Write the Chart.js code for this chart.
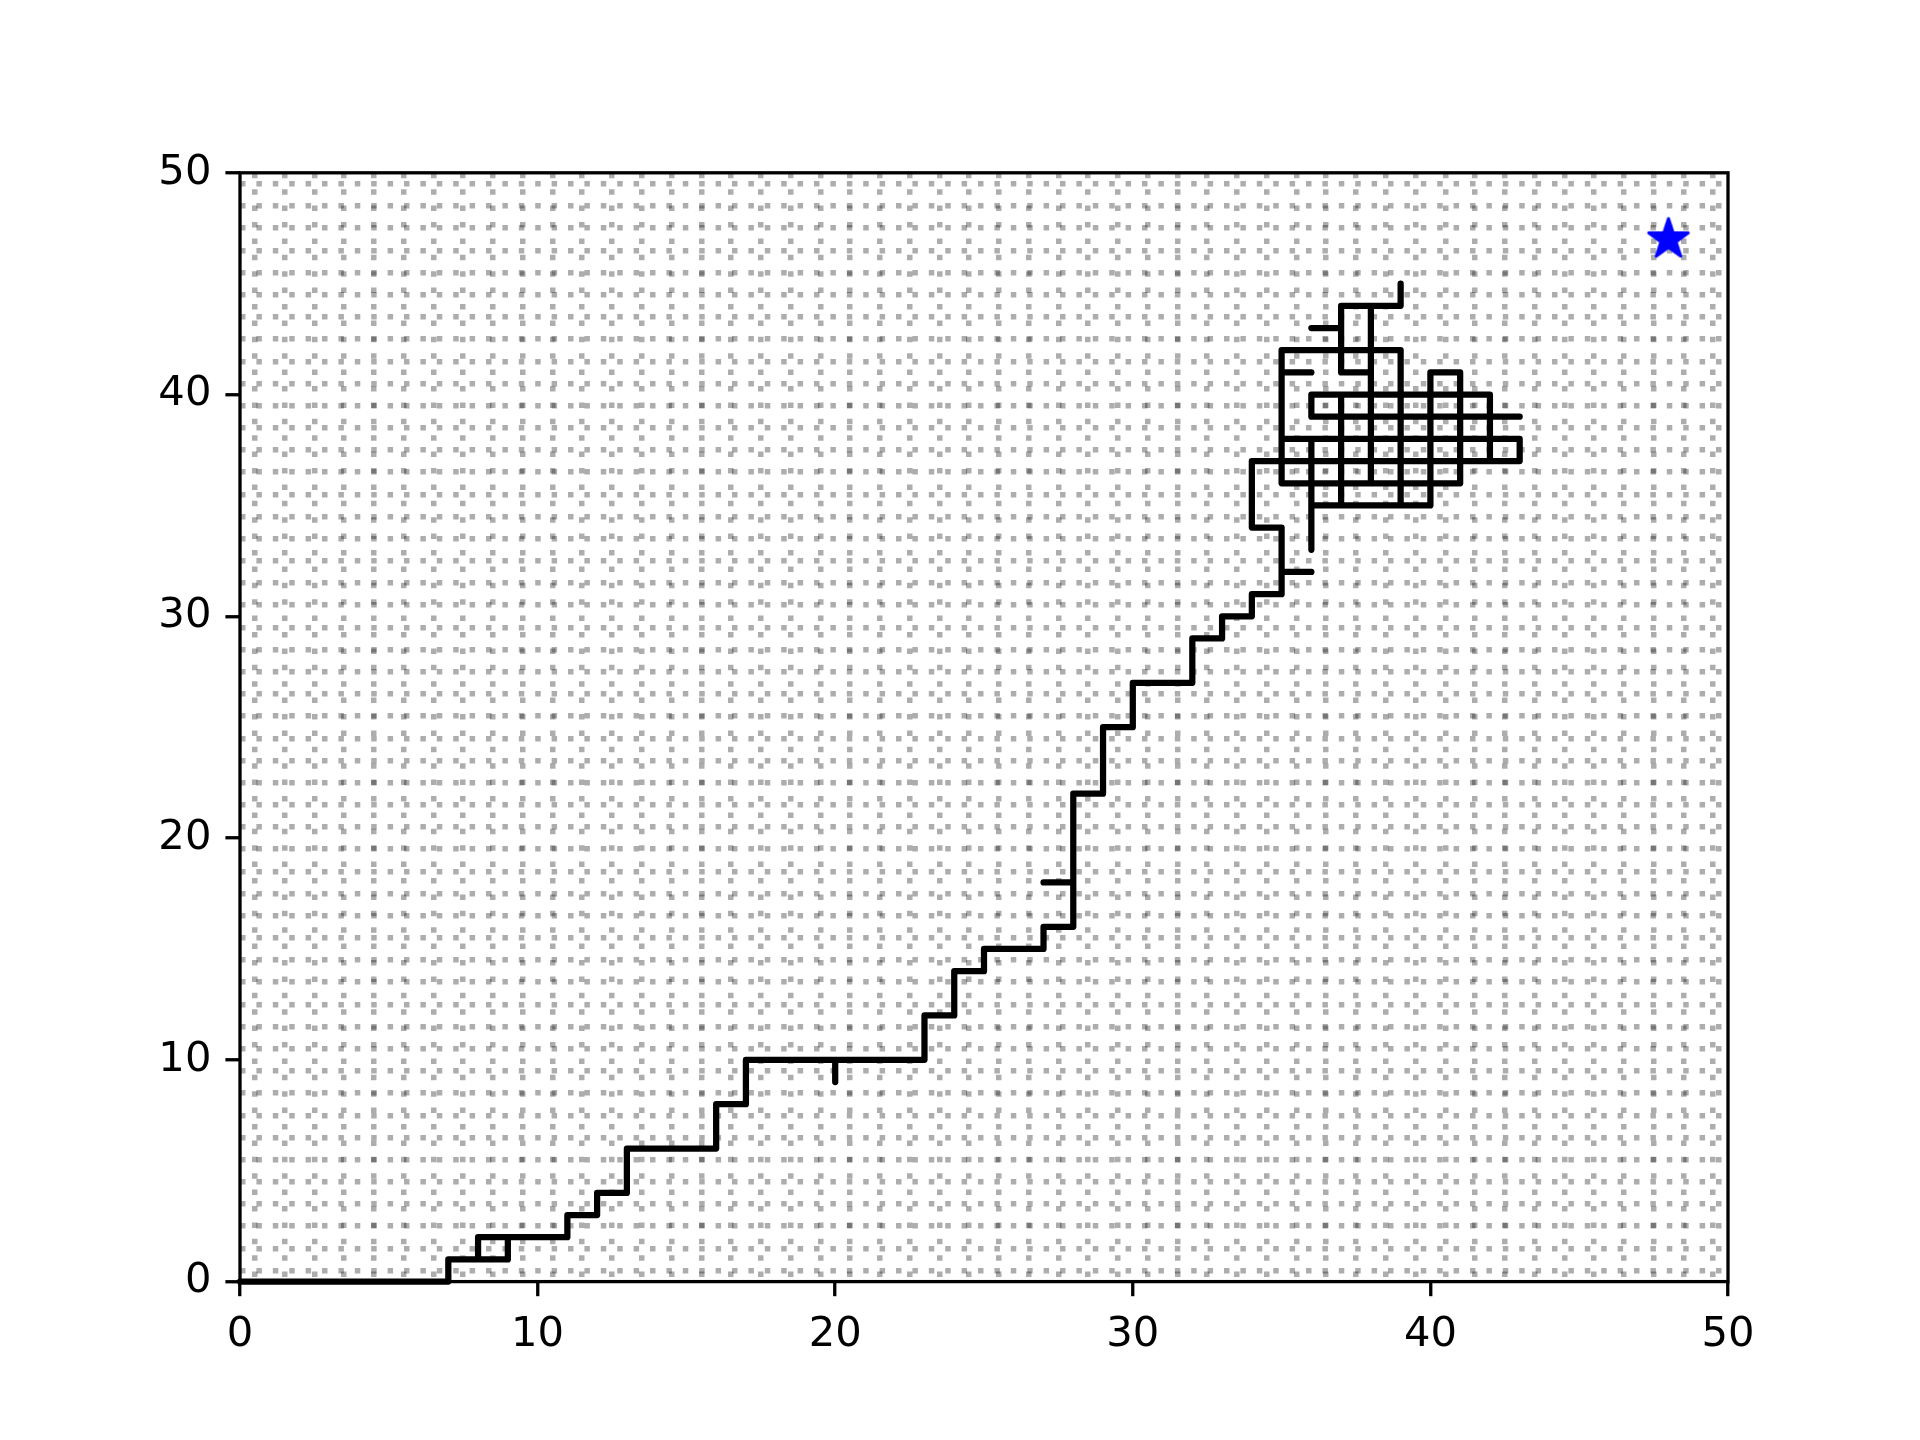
<!DOCTYPE html>
<html>
<head>
<meta charset="utf-8">
<script src="https://cdn.jsdelivr.net/npm/chart.js@4/dist/chart.umd.min.js"></script>
<style>
  html, body { margin: 0; background: #fff; }
  canvas { display: block; }
</style>
</head>
<body>
<canvas id="chart" width="1920" height="1440"></canvas>
<script>
// main walk from the start corner up into the tangle
const walkX = [0, 7, 7, 9, 9, 11, 11, 12, 12, 13, 13, 16, 16, 17, 17, 23, 23, 24, 24, 25, 25,
               27, 27, 28, 28, 29, 29, 30, 30, 32, 32, 33, 33, 34, 34, 35, 35, 34, 34, 43, 43, 35];
const walkY = [0, 0, 1, 1, 2, 2, 3, 3, 4, 4, 6, 6, 8, 8, 10, 10, 12, 12, 14, 14, 15,
               15, 16, 16, 22, 22, 25, 25, 27, 27, 29, 29, 30, 30, 31, 31, 34, 34, 37, 37, 38, 38];

// other visited pieces, null = break between pieces
const branchX = [35, 35, 39, 39, 36, null,
                 36, 36, null,
                 36, 40, 40, 41, 41, 35, null,
                 37, 37, null,
                 36, 36, 42, 42, null,
                 36, 43, null,
                 38, 38, null,
                 38, 37, 37, 39, 39, null,
                 36, 37, null,
                 35, 36, null,
                 35, 36, null,
                 8, 8, 9, null,
                 20, 20, null,
                 27, 28];
const branchY = [36, 42, 42, 35, 35, null,
                 33, 38, null,
                 35, 35, 41, 41, 36, 36, null,
                 35, 40, null,
                 39, 40, 40, 37, null,
                 39, 39, null,
                 36, 44, null,
                 41, 41, 44, 44, 45, null,
                 43, 43, null,
                 41, 41, null,
                 32, 32, null,
                 1, 2, 2, null,
                 9, 10, null,
                 18, 18];

const goalX = [48];
const goalY = [47];

const tickLabels = [0, 10, 20, 30, 40, 50];

// cell borders sit on the half units
const cellLines = [];
for (let i = 0; i < 50; i++) cellLines.push(i + 0.5);
const axisTicks = tickLabels.concat(cellLines).sort((a, b) => a - b);

const pts = (xs, ys) => xs.map((x, i) => ({ x: x, y: ys[i] }));
const pathData = pts(walkX, walkY).concat([{ x: null, y: null }], pts(branchX, branchY));

function starImage(r, color) {
  const pad = 4;
  const size = Math.ceil(2 * r + 2 * pad);
  const c = document.createElement('canvas');
  c.width = c.height = size;
  const g = c.getContext('2d');
  const cx = size / 2, cy = size / 2;
  g.beginPath();
  for (let i = 0; i < 10; i++) {
    const rr = i % 2 ? r * 0.381966 : r;
    const a = -Math.PI / 2 + i * Math.PI / 5;
    g.lineTo(cx + rr * Math.cos(a), cy + rr * Math.sin(a));
  }
  g.closePath();
  g.fillStyle = color;
  g.fill();
  g.lineWidth = 3;
  g.lineJoin = 'round';
  g.strokeStyle = color;
  g.stroke();
  return c;
}

const frame = {
  id: 'frame',
  afterDatasetsDraw(chart) {
    const { ctx, chartArea: a } = chart;
    ctx.save();
    ctx.strokeStyle = '#000';
    ctx.lineWidth = 3.3;
    ctx.strokeRect(a.left, a.top, a.right - a.left, a.bottom - a.top);
    ctx.restore();
  },
};

const gridColor = 'rgba(0,0,0,0.32)';
const tickFont = { family: 'DejaVu Sans', size: 41.7 };
const isCell = v => Math.abs(v % 1 - 0.5) < 1e-9;

function axis(side) {
  return {
    type: 'linear',
    min: 0,
    max: 50,
    afterBuildTicks: s => { s.ticks = axisTicks.map(v => ({ value: v })); },
    afterFit: s => {
      if (side === 'x') s.height = 158.4;
      else s.width = 240;
    },
    ticks: {
      autoSkip: false,
      maxRotation: 0,
      padding: 14,
      color: '#000',
      font: tickFont,
      callback: v => tickLabels.includes(v) ? String(v) : '',
    },
    grid: {
      color: c => isCell(c.tick.value) ? gridColor : 'rgba(0,0,0,0)',
      lineWidth: 5.5,
      tickLength: 14.6,
      tickWidth: 3.3,
      tickColor: c => tickLabels.includes(c.tick.value) ? '#000' : 'rgba(0,0,0,0)',
    },
    border: { display: false, dash: [5.5, 10.9] },
  };
}

new Chart(document.getElementById('chart'), {
  type: 'scatter',
  data: {
    datasets: [
      {
        label: 'path',
        data: pathData,
        showLine: true,
        spanGaps: false,
        borderColor: '#000',
        borderWidth: 6.25,
        borderJoinStyle: 'round',
        borderCapStyle: 'round',
        pointRadius: 0,
        tension: 0,
        clip: false,
      },
      {
        label: 'goal',
        data: pts(goalX, goalY),
        pointStyle: starImage(20.8, '#0000ff'),
        pointRadius: 20,
        clip: false,
      },
    ],
  },
  options: {
    responsive: false,
    devicePixelRatio: 1,
    animation: false,
    layout: { padding: { top: 172.8, right: 192, bottom: 0, left: 0 } },
    plugins: {
      legend: { display: false },
      tooltip: { enabled: false },
    },
    scales: {
      x: axis('x'),
      y: axis('y'),
    },
  },
  plugins: [frame],
});
</script>
</body>
</html>
